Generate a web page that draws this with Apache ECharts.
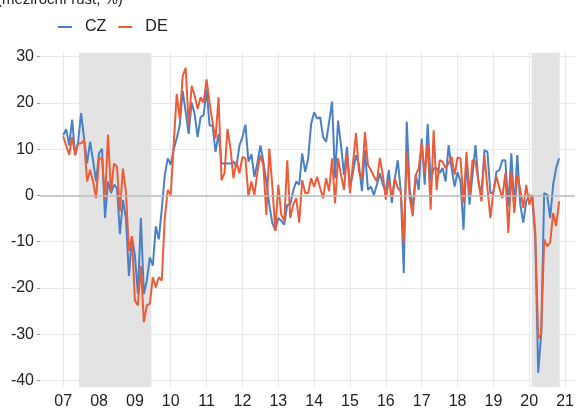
<!DOCTYPE html>
<html>
<head>
<meta charset="utf-8">
<script src="https://cdn.jsdelivr.net/npm/echarts@6/dist/echarts.min.js"></script>
<style>
  html, body { margin: 0; padding: 0; background: #fff; }
  #chart { width: 577px; height: 410px; }
</style>
</head>
<body>
<div id="chart"></div>
<script>
// monthly y/y values, Jan 2007 .. Nov 2020
const startYear = 2007;

const cz = [
  13, 14.3, 10.8, 16.4, 8.7, 11.6, 17.8, 12.3, 7, 11.6, 7.5, 3, // 2007
  9.1, 10.1, -4.9, 3, 0.5, 2.3, 1.6, -8.4, -1, -5, -17.4, -9, // 2008
  -13, -21.3, -4.9, -21.3, -18.4, -13.4, -15.2, -6.7, -9.5, -3, 4.4, 8, // 2009
  6.6, 10, 12.3, 15.1, 22.6, 18, 13.3, 20.1, 17.6, 12.6, 17, 17.3, // 2010
  23, 15.1, 15.1, 9.4, 13.3, 6.9, 6.9, 6.9, 6.9, 7.3, 6.2, 10.8, // 2011
  12.6, 15.3, 7.3, 8.9, 4, 7, 10.8, 7.3, 3, -2, -6, -7.5, // 2012
  -4.9, -5.5, -6.3, -2, -2, 1, 3, 2.3, 9.1, 5.1, 8, 15.5, // 2013
  18, 16.6, 16.9, 12.6, 11.6, 15.8, 20.3, 3.7, 16.2, 10.8, 4.4, 10.5, // 2014
  1.6, 5, 8.7, 6.6, 0.9, 9.8, 1.2, 1.9, 0.1, 2.3, 4.8, 2.3, // 2015
  0.9, 5.5, -1.6, 3.7, 7.6, 0.9, -16.8, 15.9, 1.2, -2.7, 4.4, 1.2, // 2016
  12.3, 2.3, 15.5, 3, 5.9, 5.9, 4.8, 5.9, 3, 10.9, 5.9, 1.9, // 2017
  5, 3, -7.4, 8, -2, 4.4, 10.9, 3, 0.1, 9.8, 9.4, 0.5, // 2018
  0.5, 5.1, 5.5, 7.6, 7.6, -2.4, 9.1, -2.7, 8.7, -2, -5.9, -1.3, // 2019
  0.1, -0.6, -9, -38.4, -29.9, 0.5, 0.1, -4.9, 2.3, 5.9, 8 // 2020
];

const de = [
  12.8, 10.8, 8.8, 12.6, 8.7, 11.2, 11.3, 11.9, 3, 5.5, 3, -0.6, // 2007
  8, 8, -1, 13.1, 0.8, 6.9, 6.2, -3.4, 5.8, 0.8, -12, -8.8, // 2008
  -22.7, -23.8, -15.2, -27.4, -23.8, -23.4, -17.7, -19.9, -17.7, -18.4, -4.9, 1.2, // 2009
  0.1, 11, 21.9, 16.6, 25.8, 27.6, 15.1, 23.7, 21.6, 18.7, 21.2, 20.1, // 2010
  25.1, 20, 15.8, 12.3, 21.2, 3.3, 4.8, 14.4, 10.1, 3.7, 7.3, 4.8, // 2011
  8.3, 8, -0.2, 3, 0.1, 5, 8.7, 6.5, -4.2, 10.1, 2, -7.7, // 2012
  2.3, -4.2, -5.5, 7.6, -4.9, -2, -0.6, -5.9, 3.3, 0.5, 0.5, 3.7, // 2013
  1.9, 4, 1.6, -0.6, 3.7, 0.9, 8, -1.7, 8, 4.4, 1.2, 9.1, // 2014
  0.5, 7, 13.5, 5.1, 3.7, 13.7, 6.6, 5.5, 4.1, 3, 8.1, 4.4, // 2015
  -0.9, 3.4, -0.6, 3.7, 1.6, 0.9, -10.2, 9.4, -0.6, -4.5, 4.4, 5.9, // 2016
  11.2, 4.8, 11.2, -3.1, 14.1, 1.2, 7.6, 7.3, 5.9, 6.9, 8.4, 4.4, // 2017
  8.2, 8, -1.6, 9.4, 0.1, 7.6, 7.3, 3, -1.3, 8.7, 1.6, -4.9, // 2018
  0.9, 4.1, 1.6, -0.6, 4.8, -8.1, 5.1, -3.8, 4.4, 1.2, -2.7, 2.3, // 2019
  -2, 0.1, -7.7, -31, -29.9, -9.5, -11, -10.2, -3.8, -6.6, -1.3 // 2020
];

const yearTicks = [2007, 2008, 2009, 2010, 2011, 2012, 2013, 2014, 2015, 2016, 2017, 2018, 2019, 2020, 2021];
const yTicks = [-40, -30, -20, -10, 0, 10, 20, 30];
// shaded periods (decimal years)
const recessions = [[2007.44, 2009.46], [2020.07, 2020.85]];

const toPoints = (arr) => arr.map((v, i) => [startYear + i / 12, v]);

const chart = echarts.init(document.getElementById('chart'));

const font = 'Liberation Sans, Arial, sans-serif';

chart.setOption({
  animation: false,
  textStyle: { fontFamily: font },
  title: {
    text: '(meziroční růst, %)',
    left: -8,
    top: -13,
    textStyle: { fontSize: 15, fontWeight: 'normal', color: '#222', fontFamily: font },
  },
  legend: {
    data: [
      { name: 'CZ', icon: 'rect' },
      { name: 'DE', icon: 'rect' },
    ],
    left: 53,
    top: 14,
    itemWidth: 14,
    itemHeight: 2,
    itemGap: 12,
    textStyle: { fontSize: 16, color: '#222', padding: [0, 0, 0, 8] },
  },
  grid: {
    left: 40,
    right: 0,
    top: 52.7,
    bottom: 18.3,
    containLabel: false,
  },
  xAxis: {
    type: 'value',
    min: 2006.353,
    max: 2021.27,
    axisLine: { show: false },
    axisTick: { show: false, customValues: yearTicks },
    axisLabel: {
      customValues: yearTicks,
      formatter: (v) => String(Math.round(v)).slice(2),
      fontSize: 16,
      color: '#222',
      margin: 7,
    },
    splitLine: { show: true, lineStyle: { color: '#e8e8e8', width: 1 } },
  },
  yAxis: {
    type: 'value',
    min: -41.43,
    max: 30.86,
    axisLine: { show: false },
    axisTick: { show: true, length: 3, customValues: yTicks, lineStyle: { color: '#999' } },
    axisLabel: {
      customValues: yTicks,
      fontSize: 16,
      color: '#222',
      margin: 6,
    },
    splitLine: { show: true, lineStyle: { color: '#e8e8e8', width: 1 } },
  },
  series: [
    {
      name: 'shade',
      type: 'line',
      data: [],
      z: 1,
      silent: true,
      markArea: {
        silent: true,
        itemStyle: { color: '#e3e3e3' },
        data: recessions.map((r) => [{ xAxis: r[0] }, { xAxis: r[1] }]),
      },
      markLine: {
        silent: true,
        symbol: 'none',
        label: { show: false },
        lineStyle: { color: '#bdbdbd', width: 1.5, type: 'solid' },
        data: [{ yAxis: 0 }],
      },
    },
    {
      name: 'CZ',
      type: 'line',
      symbol: 'none',
      z: 3,
      color: '#4a80c6',
      lineStyle: { width: 2, color: '#4a80c6' },
      data: toPoints(cz),
    },
    {
      name: 'DE',
      type: 'line',
      symbol: 'none',
      z: 4,
      color: '#ec5c39',
      lineStyle: { width: 2, color: '#ec5c39' },
      data: toPoints(de),
    },
  ],
});
</script>
</body>
</html>
